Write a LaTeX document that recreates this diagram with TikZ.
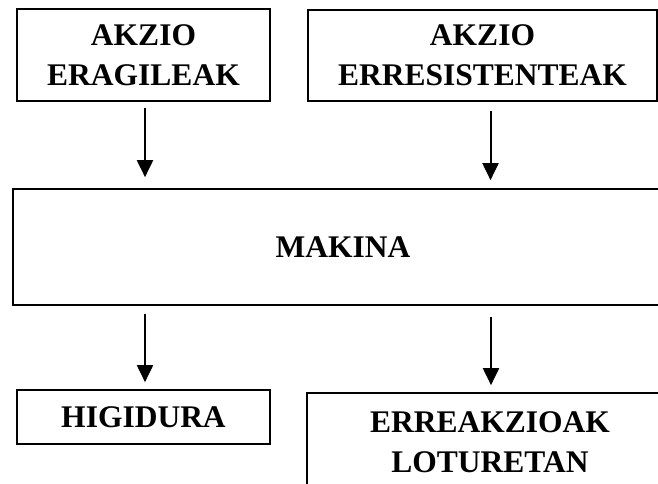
\documentclass[tikz,border=0pt]{standalone}
\usepackage{fontspec}
\setmainfont{Liberation Serif}
\usetikzlibrary{arrows.meta}
\begin{document}
\begin{tikzpicture}[x=1pt,y=-1pt,
  box/.style={draw,line width=1.7pt,inner sep=0pt,align=center,
    font=\fontsize{31.5}{40}\selectfont\bfseries},
  arr/.style={line width=2pt,-{Triangle[length=17pt,width=16pt]}}]
\path[use as bounding box,clip] (0,0) rectangle (658,483);
\fill[white] (0,0) rectangle (658,483);
\node[box,minimum width=253pt,minimum height=92pt] (e) at (143.5,55) {AKZIO\\ERAGILEAK};
\node[box,minimum width=349pt,minimum height=91pt] (r) at (482.5,55.5) {AKZIO\\ERRESISTENTEAK};
\node[box,minimum width=660pt,minimum height=116pt] (m) at (343,247) {MAKINA};
\node[box,minimum width=253pt,minimum height=54pt] (h) at (143.5,417) {HIGIDURA};
\node[box,minimum width=366pt,minimum height=98pt] (l) at (490,442) {ERREAKZIOAK\\LOTURETAN};
\draw[arr,shorten <=6pt,shorten >=11pt] ([xshift=1.5pt]e.south) -- ([xshift=1.5pt]e.south |- m.north);
\draw[arr,shorten <=9pt,shorten >=8pt] ([xshift=8pt]r.south) -- ([xshift=8pt]r.south |- m.north);
\draw[arr,shorten <=8pt,shorten >=7pt] ([xshift=1.5pt]h.north |- m.south) -- ([xshift=1.5pt]h.north);
\draw[arr,shorten <=11pt,shorten >=7pt] ([xshift=1pt]l.north |- m.south) -- ([xshift=1pt]l.north);
\end{tikzpicture}
\end{document}
